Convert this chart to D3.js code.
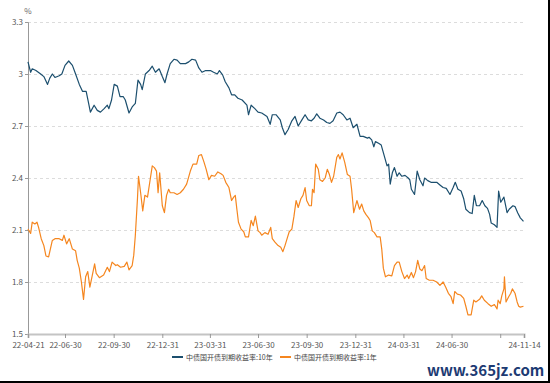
<!DOCTYPE html>
<html lang="zh">
<head>
<meta charset="UTF-8">
<title>中债国开债到期收益率</title>
<script src="https://d3js.org/d3.v7.min.js"></script>
<style>
  body { margin: 0; background: #fff; }
  svg text { font-family: "Noto Sans CJK SC", "Noto Sans", sans-serif; }
</style>
</head>
<body>
<div id="chart"></div>
<script>
// [date, yield %]
const cdb10y = [
  ["2022-04-21",3.07],["2022-04-26",3.01],["2022-04-29",3.03],["2022-05-06",3.02],["2022-05-15",3.00],
  ["2022-05-21",2.985],["2022-05-28",2.94],["2022-06-01",2.975],["2022-06-06",3.00],["2022-06-11",2.98],
  ["2022-06-19",2.99],["2022-06-24",3.00],["2022-06-30",3.05],["2022-07-07",3.075],["2022-07-14",3.05],
  ["2022-07-20",3.00],["2022-07-27",2.94],["2022-08-02",2.90],["2022-08-09",2.90],["2022-08-13",2.84],
  ["2022-08-17",2.78],["2022-08-24",2.82],["2022-08-30",2.79],["2022-09-05",2.78],["2022-09-12",2.80],
  ["2022-09-18",2.82],["2022-09-21",2.80],["2022-09-26",2.85],["2022-10-01",2.94],["2022-10-07",2.93],
  ["2022-10-12",2.87],["2022-10-18",2.87],["2022-10-22",2.85],["2022-10-29",2.775],["2022-11-04",2.81],
  ["2022-11-10",2.83],["2022-11-15",2.965],["2022-11-20",2.94],["2022-11-23",2.91],["2022-11-29",3.00],
  ["2022-12-06",3.02],["2022-12-12",3.045],["2022-12-18",3.01],["2022-12-25",3.03],["2022-12-31",2.985],
  ["2023-01-05",2.95],["2023-01-09",3.00],["2023-01-15",3.06],["2023-01-22",3.085],["2023-01-28",3.08],
  ["2023-02-03",3.06],["2023-02-13",3.06],["2023-02-19",3.07],["2023-02-25",3.085],["2023-03-04",3.08],
  ["2023-03-10",3.035],["2023-03-16",3.01],["2023-03-23",3.02],["2023-04-01",3.02],["2023-04-07",3.01],
  ["2023-04-14",3.00],["2023-04-18",3.02],["2023-04-24",2.995],["2023-04-29",2.955],["2023-05-06",2.92],
  ["2023-05-11",2.88],["2023-05-17",2.88],["2023-05-23",2.86],["2023-05-31",2.85],["2023-06-09",2.82],
  ["2023-06-12",2.765],["2023-06-17",2.82],["2023-06-24",2.80],["2023-06-30",2.78],["2023-07-07",2.775],
  ["2023-07-17",2.755],["2023-07-23",2.71],["2023-07-27",2.765],["2023-08-03",2.765],["2023-08-11",2.735],
  ["2023-08-15",2.69],["2023-08-20",2.65],["2023-08-26",2.68],["2023-09-02",2.73],["2023-09-08",2.755],
  ["2023-09-14",2.70],["2023-09-21",2.735],["2023-09-27",2.765],["2023-10-03",2.735],["2023-10-09",2.73],
  ["2023-10-14",2.745],["2023-10-19",2.77],["2023-10-25",2.745],["2023-11-01",2.735],["2023-11-07",2.72],
  ["2023-11-13",2.715],["2023-11-19",2.73],["2023-11-26",2.775],["2023-12-02",2.78],["2023-12-08",2.765],
  ["2023-12-15",2.735],["2023-12-21",2.745],["2023-12-27",2.69],["2024-01-03",2.71],["2024-01-09",2.64],
  ["2024-01-15",2.64],["2024-01-23",2.63],["2024-01-26",2.635],["2024-01-31",2.62],["2024-02-04",2.58],
  ["2024-02-07",2.61],["2024-02-13",2.60],["2024-02-18",2.59],["2024-02-24",2.525],["2024-02-29",2.47],
  ["2024-03-03",2.48],["2024-03-06",2.365],["2024-03-10",2.43],["2024-03-14",2.46],["2024-03-19",2.41],
  ["2024-03-23",2.43],["2024-03-28",2.41],["2024-04-03",2.415],["2024-04-09",2.40],["2024-04-12",2.39],
  ["2024-04-15",2.335],["2024-04-21",2.305],["2024-04-26",2.44],["2024-05-01",2.39],["2024-05-07",2.355],
  ["2024-05-10",2.40],["2024-05-16",2.385],["2024-05-22",2.375],["2024-06-02",2.375],["2024-06-08",2.36],
  ["2024-06-14",2.345],["2024-06-20",2.34],["2024-06-27",2.305],["2024-07-03",2.345],["2024-07-07",2.375],
  ["2024-07-12",2.335],["2024-07-18",2.325],["2024-07-23",2.28],["2024-07-27",2.22],["2024-08-03",2.20],
  ["2024-08-08",2.195],["2024-08-12",2.30],["2024-08-16",2.24],["2024-08-22",2.24],["2024-08-27",2.27],
  ["2024-09-01",2.24],["2024-09-06",2.225],["2024-09-10",2.19],["2024-09-13",2.14],["2024-09-19",2.13],
  ["2024-09-24",2.115],["2024-09-27",2.325],["2024-10-01",2.26],["2024-10-07",2.29],["2024-10-13",2.20],
  ["2024-10-17",2.22],["2024-10-24",2.24],["2024-10-28",2.235],["2024-11-02",2.20],["2024-11-07",2.17],
  ["2024-11-13",2.15]
];

const cdb1y = [
  ["2022-04-21",2.106],["2022-04-26",2.08],["2022-04-29",2.145],["2022-05-04",2.135],["2022-05-08",2.145],
  ["2022-05-11",2.115],["2022-05-16",2.05],["2022-05-21",2.01],["2022-05-25",1.95],["2022-05-30",1.945],
  ["2022-06-06",2.04],["2022-06-11",2.05],["2022-06-19",2.05],["2022-06-25",2.04],["2022-06-28",2.07],
  ["2022-07-03",2.02],["2022-07-08",2.05],["2022-07-14",1.99],["2022-07-20",1.98],["2022-07-23",1.925],
  ["2022-07-27",1.88],["2022-07-31",1.80],["2022-08-04",1.70],["2022-08-08",1.83],["2022-08-12",1.86],
  ["2022-08-16",1.77],["2022-08-20",1.83],["2022-08-25",1.905],["2022-08-28",1.85],["2022-09-03",1.825],
  ["2022-09-11",1.84],["2022-09-18",1.885],["2022-09-22",1.86],["2022-09-27",1.915],["2022-10-04",1.895],
  ["2022-10-07",1.90],["2022-10-13",1.885],["2022-10-20",1.89],["2022-10-25",1.915],["2022-10-29",1.87],
  ["2022-11-04",1.895],["2022-11-07",1.955],["2022-11-10",2.07],["2022-11-14",2.28],["2022-11-16",2.41],
  ["2022-11-20",2.315],["2022-11-24",2.21],["2022-11-28",2.30],["2022-12-03",2.29],["2022-12-08",2.39],
  ["2022-12-12",2.47],["2022-12-16",2.46],["2022-12-20",2.44],["2022-12-23",2.315],["2022-12-26",2.43],
  ["2022-12-31",2.24],["2023-01-04",2.20],["2023-01-08",2.30],["2023-01-12",2.335],["2023-01-15",2.315],
  ["2023-01-22",2.315],["2023-01-28",2.305],["2023-02-03",2.315],["2023-02-09",2.335],["2023-02-15",2.365],
  ["2023-02-22",2.44],["2023-02-27",2.48],["2023-03-06",2.48],["2023-03-10",2.53],["2023-03-15",2.535],
  ["2023-03-20",2.49],["2023-03-24",2.45],["2023-03-29",2.39],["2023-04-03",2.415],["2023-04-09",2.41],
  ["2023-04-15",2.435],["2023-04-21",2.425],["2023-04-25",2.415],["2023-04-30",2.375],["2023-05-06",2.345],
  ["2023-05-11",2.27],["2023-05-15",2.29],["2023-05-18",2.30],["2023-05-21",2.22],["2023-05-24",2.145],
  ["2023-05-29",2.105],["2023-06-03",2.09],["2023-06-06",2.06],["2023-06-12",2.06],["2023-06-17",2.155],
  ["2023-06-21",2.125],["2023-06-25",2.18],["2023-06-30",2.095],["2023-07-04",2.085],["2023-07-07",2.07],
  ["2023-07-13",2.085],["2023-07-19",2.075],["2023-07-24",2.115],["2023-07-27",2.05],["2023-08-01",2.03],
  ["2023-08-07",2.01],["2023-08-12",2.00],["2023-08-16",1.975],["2023-08-20",2.01],["2023-08-24",2.05],
  ["2023-08-28",2.09],["2023-09-02",2.105],["2023-09-06",2.18],["2023-09-10",2.27],["2023-09-14",2.23],
  ["2023-09-19",2.28],["2023-09-23",2.30],["2023-09-27",2.345],["2023-09-30",2.27],["2023-10-05",2.24],
  ["2023-10-09",2.24],["2023-10-11",2.335],["2023-10-14",2.315],["2023-10-17",2.48],["2023-10-22",2.45],
  ["2023-10-25",2.39],["2023-10-30",2.38],["2023-11-04",2.40],["2023-11-08",2.45],["2023-11-12",2.42],
  ["2023-11-16",2.375],["2023-11-20",2.41],["2023-11-26",2.52],["2023-11-29",2.535],["2023-12-02",2.51],
  ["2023-12-06",2.545],["2023-12-11",2.49],["2023-12-16",2.42],["2023-12-21",2.41],["2023-12-24",2.335],
  ["2023-12-28",2.20],["2024-01-03",2.27],["2024-01-08",2.22],["2024-01-12",2.25],["2024-01-16",2.21],
  ["2024-01-20",2.19],["2024-01-25",2.17],["2024-01-28",2.155],["2024-02-01",2.095],["2024-02-05",2.085],
  ["2024-02-10",2.06],["2024-02-16",2.06],["2024-02-19",1.99],["2024-02-22",1.88],["2024-02-26",1.83],
  ["2024-03-03",1.84],["2024-03-09",1.835],["2024-03-14",1.895],["2024-03-19",1.915],["2024-03-23",1.915],
  ["2024-03-28",1.86],["2024-04-02",1.82],["2024-04-07",1.84],["2024-04-10",1.82],["2024-04-15",1.855],
  ["2024-04-19",1.825],["2024-04-23",1.86],["2024-04-27",1.925],["2024-05-01",1.875],["2024-05-05",1.865],
  ["2024-05-10",1.895],["2024-05-13",1.82],["2024-05-19",1.81],["2024-05-26",1.81],["2024-06-02",1.80],
  ["2024-06-08",1.78],["2024-06-14",1.80],["2024-06-19",1.77],["2024-06-24",1.735],["2024-06-29",1.715],
  ["2024-07-03",1.675],["2024-07-06",1.745],["2024-07-11",1.73],["2024-07-17",1.725],["2024-07-23",1.705],
  ["2024-07-27",1.66],["2024-07-31",1.61],["2024-08-06",1.61],["2024-08-11",1.695],["2024-08-15",1.685],
  ["2024-08-22",1.70],["2024-08-26",1.72],["2024-08-31",1.695],["2024-09-07",1.675],["2024-09-13",1.66],
  ["2024-09-19",1.67],["2024-09-24",1.645],["2024-09-26",1.695],["2024-09-30",1.675],["2024-10-03",1.72],
  ["2024-10-07",1.76],["2024-10-08",1.83],["2024-10-11",1.685],["2024-10-16",1.715],["2024-10-20",1.735],
  ["2024-10-23",1.76],["2024-10-28",1.735],["2024-11-01",1.685],["2024-11-04",1.66],["2024-11-07",1.655],
  ["2024-11-13",1.66]
];

const yTicks = [1.5, 1.8, 2.1, 2.4, 2.7, 3.0, 3.3];
const xTicks = ["2022-04-21","2022-06-30","2022-09-30","2022-12-31","2023-03-31","2023-06-30",
                "2023-09-30","2023-12-31","2024-03-31","2024-06-30","2024-09-30","2024-11-14"];
const hiddenTickLabels = ["2024-09-30"];
const seriesNames = ["中债国开债到期收益率:10年", "中债国开债到期收益率:1年"];
const seriesColors = ["#1c4f6e", "#f5861f"];

const width = 550, height = 383;
const margin = {top: 22, right: 26, bottom: 49, left: 28};
const parse = d3.timeParse("%Y-%m-%d");
const fmt = d3.timeFormat("%y-%m-%d");

const svg = d3.select("#chart").append("svg")
    .attr("width", width)
    .attr("height", height);

const x = d3.scaleTime()
    .domain([parse(xTicks[0]), parse(xTicks[xTicks.length - 1])])
    .range([margin.left, width - margin.right]);
const y = d3.scaleLinear()
    .domain([1.5, 3.3])
    .range([height - margin.bottom, margin.top]);

// grid
svg.append("g")
    .selectAll("line")
    .data(yTicks.filter(d => d > 1.5))
    .join("line")
    .attr("x1", margin.left).attr("x2", width - margin.right)
    .attr("y1", d => Math.round(y(d)) + 0.5).attr("y2", d => Math.round(y(d)) + 0.5)
    .attr("stroke", "#dcdcdc")
    .attr("stroke-dasharray", "3,3");

// y axis
const yAxis = svg.append("g")
    .attr("transform", `translate(${margin.left},0)`)
    .call(d3.axisLeft(y).tickValues(yTicks).tickSize(3).tickFormat(d => d3.format("")(+d.toFixed(1))));
yAxis.select(".domain").attr("stroke", "#999");
yAxis.selectAll(".tick line").attr("stroke", "#999");
yAxis.selectAll("text").attr("fill", "#555").attr("font-size", 8).attr("x", -5);

svg.append("text")
    .attr("x", margin.left).attr("y", 14)
    .attr("text-anchor", "middle")
    .attr("fill", "#666").attr("font-size", 8)
    .text("%");

// x axis
const xAxis = svg.append("g")
    .attr("transform", `translate(0,${height - margin.bottom})`)
    .call(d3.axisBottom(x).tickValues(xTicks.map(parse)).tickSize(4)
        .tickFormat(d => hiddenTickLabels.includes(d3.timeFormat("%Y-%m-%d")(d)) ? "" : fmt(d)));
xAxis.select(".domain").attr("stroke", "#c4c4c4").attr("stroke-width", 2);
xAxis.selectAll(".tick line").attr("stroke", "#999");
xAxis.selectAll("text").attr("fill", "#555").attr("font-size", 8).attr("dy", "0.9em");

// lines
const line = d3.line()
    .x(d => x(parse(d[0])))
    .y(d => y(d[1]));

[cdb10y, cdb1y].forEach((s, i) => {
    svg.append("path")
        .datum(s)
        .attr("fill", "none")
        .attr("stroke", seriesColors[i])
        .attr("stroke-width", 1.2)
        .attr("stroke-linejoin", "round")
        .attr("d", line);
});

// legend
const legendX = [172, 280];
const legend = svg.append("g").attr("transform", "translate(0,357)");
seriesNames.forEach((name, i) => {
    legend.append("line")
        .attr("x1", legendX[i]).attr("x2", legendX[i] + 11)
        .attr("y1", 0).attr("y2", 0)
        .attr("stroke", seriesColors[i]).attr("stroke-width", 2);
    legend.append("text")
        .attr("x", legendX[i] + 14).attr("y", 2.5)
        .attr("fill", "#444").attr("font-size", 7)
        .text(name);
});

// watermark + frame
svg.append("text")
    .attr("x", 427).attr("y", 376)
    .attr("font-family", "DejaVu Serif")
    .attr("font-weight", "bold")
    .attr("font-size", 15)
    .attr("fill", "#1d3b73")
    .text("www.365jz.com");

svg.append("line").attr("x1", 549).attr("x2", 549).attr("y1", 0).attr("y2", height)
    .attr("stroke", "#000").attr("stroke-width", 2);
svg.append("line").attr("x1", 0).attr("x2", width).attr("y1", 382).attr("y2", 382)
    .attr("stroke", "#000").attr("stroke-width", 2);
</script>
</body>
</html>
